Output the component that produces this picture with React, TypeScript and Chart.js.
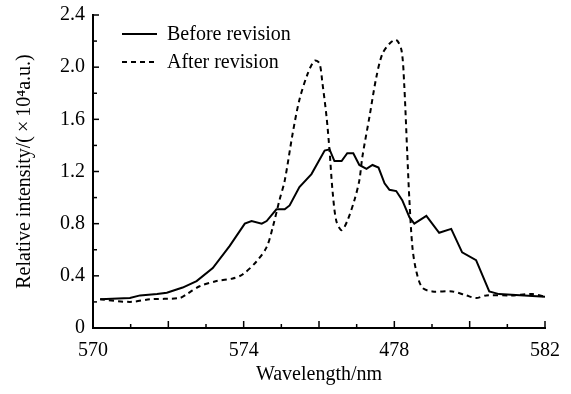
import React, { useEffect, useRef } from "react";
import { Chart, registerables } from "chart.js";

Chart.register(...registerables);

const beforeWavelengths = [570.19, 570.98, 571.25, 571.7, 571.96, 572.38, 572.75, 573.18, 573.63, 574.03, 574.21, 574.48, 574.61, 574.87, 575.09, 575.22, 575.48, 575.8, 576.15, 576.28, 576.41, 576.6, 576.75, 576.91, 577.07, 577.26, 577.42, 577.58, 577.74, 577.87, 578.05, 578.21, 578.4, 578.53, 578.85, 579.19, 579.51, 579.8, 580.17, 580.52, 580.78, 582.0];
const beforeValues = [0.22, 0.23, 0.25, 0.26, 0.27, 0.31, 0.36, 0.46, 0.63, 0.8, 0.82, 0.8, 0.82, 0.91, 0.91, 0.94, 1.08, 1.18, 1.36, 1.37, 1.28, 1.28, 1.34, 1.34, 1.25, 1.22, 1.25, 1.23, 1.11, 1.06, 1.05, 0.98, 0.85, 0.8, 0.86, 0.73, 0.76, 0.58, 0.52, 0.28, 0.26, 0.24];

const afterWavelengths = [570.19, 570.98, 571.51, 572.3, 572.49, 572.83, 573.28, 573.71, 573.97, 574.34, 574.61, 574.77, 574.95, 575.09, 575.3, 575.48, 575.7, 575.88, 576.01, 576.09, 576.2, 576.28, 576.36, 576.46, 576.6, 576.75, 576.94, 577.07, 577.15, 577.34, 577.52, 577.68, 577.87, 578.05, 578.19, 578.26, 578.34, 578.4, 578.48, 578.58, 578.74, 579.01, 579.54, 579.91, 580.17, 580.44, 581.13, 581.66, 582.0];
const afterValues = [0.22, 0.2, 0.22, 0.23, 0.26, 0.32, 0.36, 0.38, 0.41, 0.51, 0.62, 0.77, 0.98, 1.13, 1.49, 1.75, 1.95, 2.05, 2.03, 1.88, 1.62, 1.36, 1.05, 0.82, 0.75, 0.82, 0.98, 1.13, 1.31, 1.62, 1.92, 2.1, 2.18, 2.21, 2.13, 1.88, 1.36, 0.98, 0.62, 0.44, 0.31, 0.28, 0.28, 0.25, 0.23, 0.25, 0.25, 0.26, 0.24];

const seriesLabels = ["Before revision", "After revision"];
const xTickValues = [570, 574, 578, 582];
const xTickLabels = ["570", "574", "478", "582"];
const yTickValues = [0, 0.4, 0.8, 1.2, 1.6, 2.0, 2.4];
const yTickLabels = ["0", "0.4", "0.8", "1.2", "1.6", "2.0", "2.4"];
const xTitle = "Wavelength/nm";
const yTitle = "Relative intensity/(\u2009\u00d7\u200910\u2074a.u.)";

const FONT = "'Liberation Serif', 'Times New Roman', serif";

const inwardTicks = {
  id: "inwardTicks",
  afterDraw(chart: any) {
    const { ctx, chartArea, scales } = chart;
    ctx.save();
    ctx.strokeStyle = "#000";
    ctx.lineWidth = 1.5;
    const xs = scales.x;
    xs.ticks.forEach((t: any) => {
      const px = xs.getPixelForValue(t.value);
      const len = Math.round(t.value) % 2 === 0 ? 7 : 4;
      ctx.beginPath();
      ctx.moveTo(px, chartArea.bottom);
      ctx.lineTo(px, chartArea.bottom - len);
      ctx.stroke();
    });
    const ys = scales.y;
    ys.ticks.forEach((t: any) => {
      const py = ys.getPixelForValue(t.value);
      const major = Math.round(t.value * 10) % 4 === 0;
      const len = major ? 6 : 4;
      ctx.beginPath();
      ctx.moveTo(chartArea.left, py);
      ctx.lineTo(chartArea.left + len, py);
      ctx.stroke();
    });
    // legend
    const dsets = chart.data.datasets;
    ctx.font = `20px ${FONT}`;
    ctx.fillStyle = "#000";
    ctx.textBaseline = "middle";
    dsets.forEach((ds: any, i: number) => {
      const y = chartArea.top + 19 + i * 28;
      const x0 = chartArea.left + 29;
      ctx.beginPath();
      ctx.lineWidth = 2;
      ctx.setLineDash(ds.borderDash || []);
      ctx.moveTo(x0, y);
      ctx.lineTo(x0 + 35, y);
      ctx.stroke();
      ctx.setLineDash([]);
      ctx.fillText(ds.label, x0 + 45, y + 1);
    });
    ctx.restore();
  },
};

export default function App() {
  const ref = useRef<HTMLCanvasElement | null>(null);
  useEffect(() => {
    document.body.style.margin = "0";
    const canvas = ref.current;
    if (!canvas) return;
    const chart = new Chart(canvas, {
      type: "line",
      data: {
        datasets: [
          {
            label: seriesLabels[0],
            data: beforeWavelengths.map((x, i) => ({ x, y: beforeValues[i] })),
            borderColor: "#000",
            borderWidth: 2,
            pointRadius: 0,
            tension: 0,
            fill: false,
          },
          {
            label: seriesLabels[1],
            data: afterWavelengths.map((x, i) => ({ x, y: afterValues[i] })),
            borderColor: "#000",
            borderWidth: 2,
            borderDash: [5, 4],
            pointRadius: 0,
            tension: 0.3,
            fill: false,
          },
        ],
      },
      options: {
        responsive: false,
        animation: false,
        devicePixelRatio: 1,
        layout: { padding: { top: 15, right: 22, left: 0, bottom: 0 } },
        plugins: { legend: { display: false }, tooltip: { enabled: false } },
        scales: {
          x: {
            type: "linear",
            min: 570,
            max: 582,
            afterFit: (s: any) => {
              s.height = 66;
            },
            grid: { display: false, drawTicks: false },
            border: { display: true, color: "#000", width: 2 },
            ticks: {
              stepSize: 1,
              autoSkip: false,
              maxRotation: 0,
              padding: 11,
              color: "#000",
              font: { family: FONT, size: 20 },
              callback: (v: any) => {
                const i = xTickValues.indexOf(Math.round(Number(v)));
                return i >= 0 && Math.abs(Number(v) - xTickValues[i]) < 1e-6 ? xTickLabels[i] : "";
              },
            },
            title: {
              display: true,
              text: xTitle,
              color: "#000",
              font: { family: FONT, size: 20 },
              padding: { top: 0, bottom: 7 },
            },
          },
          y: {
            min: 0,
            max: 2.4,
            afterFit: (s: any) => {
              s.width = 93;
              s.paddingTop = 0;
              s.paddingBottom = 0;
            },
            grid: { display: false, drawTicks: false },
            border: { display: true, color: "#000", width: 2 },
            ticks: {
              stepSize: 0.2,
              autoSkip: false,
              padding: 8,
              color: "#000",
              font: { family: FONT, size: 20 },
              callback: (v: any) => {
                const n = Number(v);
                const i = yTickValues.findIndex((t) => Math.abs(t - n) < 1e-6);
                return i >= 0 ? yTickLabels[i] : "";
              },
            },
            title: {
              display: true,
              text: yTitle,
              color: "#000",
              font: { family: FONT, size: 20 },
              padding: { top: 13, bottom: 0 },
            },
          },
        },
      },
      plugins: [inwardTicks],
    });
    return () => chart.destroy();
  }, []);
  return <canvas ref={ref} width={571} height={394} style={{ display: "block", width: 571, height: 394 }} />;
}
